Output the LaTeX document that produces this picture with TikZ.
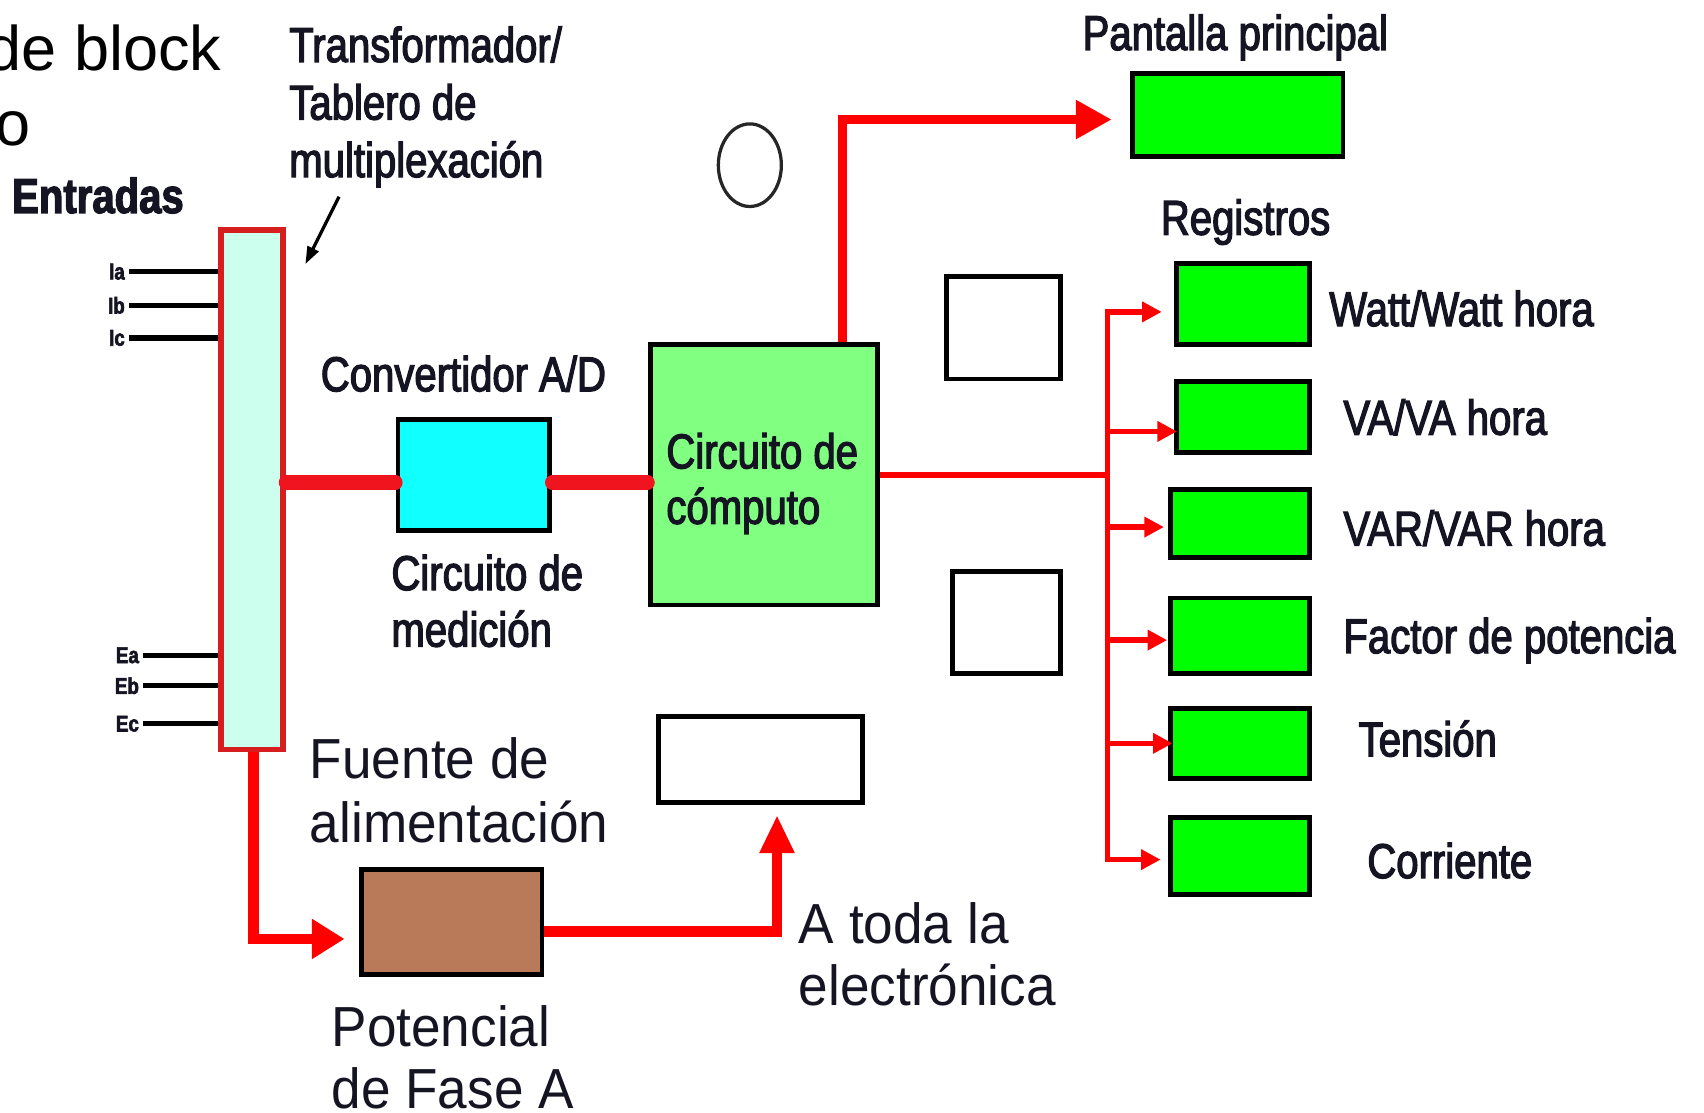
\documentclass[tikz,border=0pt]{standalone}
\usepackage{fontspec}
\setmainfont{Liberation Sans}
\newfontfamily\narrowf[FakeStretch=0.82,FakeBold=2.5]{Liberation Sans}
\newfontfamily\semif[FakeStretch=0.94]{Liberation Sans}
\usetikzlibrary{arrows.meta,shapes.geometric}
\definecolor{muxfill}{RGB}{204,255,238}
\definecolor{adfill}{RGB}{16,255,255}
\definecolor{compfill}{RGB}{128,255,128}
\definecolor{regfill}{RGB}{0,255,0}
\definecolor{brownfill}{RGB}{184,122,88}
\definecolor{muxred}{RGB}{215,30,30}
\definecolor{thickred}{RGB}{240,20,30}
\definecolor{txt}{RGB}{20,20,35}
\tikzset{
  blk/.style={draw=black, line width=4.5pt, inner sep=0pt, rectangle},
  lbl/.style={font=\narrowf\fontsize{45}{53}\selectfont, text=txt, inner sep=0pt, anchor=base west},
  lblw/.style={font=\semif\fontsize{52}{60}\selectfont, text=txt, inner sep=0pt, anchor=base west},
  big/.style={font=\fontsize{58}{70}\selectfont, text=black, inner sep=0pt, anchor=base east},
  small/.style={font=\narrowf\bfseries\fontsize{21}{23}\selectfont, text=txt, inner sep=0pt, anchor=east},
  wire/.style={draw=black, line width=5pt},
  busline/.style={draw=red, line width=5pt, line join=miter},
  redmid/.style={draw=red, line width=8pt, line join=miter},
  redwide/.style={draw=red, line width=10pt, line join=miter},
  redthick/.style={draw=thickred, line width=13pt, line cap=round},
  smallhead/.style={{Triangle[length=18pt,width=18pt]}-{Triangle[length=18pt,width=18pt]}},
}
\begin{document}
\begin{tikzpicture}[x=1pt,y=-1pt]
\useasboundingbox (0,0) rectangle (1568,1024);

% title fragments
\node[big] (t1) at (204,65) {de block};
\node[big] (t2) at (28,134) {o};

% multiplexer
\node[draw=muxred, fill=muxfill, line width=5pt, inner sep=0pt, minimum width=57pt, minimum height=478pt] (mux) at (232,450.5) {};
\node[lbl, font=\narrowf\bfseries\fontsize{45}{53}\selectfont] (entr) at (11,196) {Entradas};
\node[lbl] (tr1) at (266,57) {Transformador/};
\node[lbl] (tr2) at (266,110) {Tablero de};
\node[lbl] (tr3) at (266,163) {multiplexación};
\coordinate (ar1) at (312,181);
\coordinate (ar2) at (281,243);
\draw[black, line width=3pt, -{Triangle[length=16pt,width=11pt]}] (ar1) -- (ar2);

% inputs
\node[small] (lIa) at (115,250) {Ia};
\node[small] (lIb) at (115,281) {Ib};
\node[small] (lIc) at (115,311) {Ic};
\node[small] (lEa) at (128,603) {Ea};
\node[small] (lEb) at (128,631) {Eb};
\node[small] (lEc) at (128,666) {Ec};
\foreach \n in {lIa,lIb,lIc,lEa,lEb,lEc}
  \draw[wire] ([xshift=4pt]\n.east) -- (\n.east -| mux.west);

% A/D converter and computing circuit
\node[blk, fill=adfill, minimum width=139.5pt, minimum height=101.5pt] (ad) at (436,437) {};
\node[lbl] (conv) at (295,360) {Convertidor A/D};
\node[lbl] (med1) at (360,543) {Circuito de};
\node[lbl] (med2) at (360,595) {medición};
\node[blk, fill=compfill, minimum width=209.5pt, minimum height=239.5pt] (comp) at (703,437) {};
\node[lbl] (cmp1) at (613,431) {Circuito de};
\node[lbl] (cmp2) at (613,482) {cómputo};
\path ([yshift=-7pt]ad.west) coordinate (adin) ([yshift=-7pt]ad.east) coordinate (adout);
\draw[redthick] (adin -| mux.east) -- (adin);
\draw[redthick] (adout) -- (adout -| comp.west);

% empty shapes
\node[draw=black!85, line width=3pt, ellipse, inner sep=0pt, minimum width=58pt, minimum height=76pt] (circ) at (690,152) {};
\node[blk, fill=white, minimum width=104.5pt, minimum height=94.5pt] (e1) at (923.5,301.5) {};
\node[blk, fill=white, minimum width=99.5pt, minimum height=93.5pt] (e2) at (926,573) {};
\node[blk, fill=white, minimum width=187.5pt, minimum height=79.5pt] (e3) at (700,699) {};

% main display
\node[lbl] (pantl) at (996,46) {Pantalla principal};
\node[blk, fill=regfill, minimum width=193.5pt, minimum height=76.5pt] (pant) at (1139,105.5) {};
\coordinate (pantip) at (1023,110);
\draw[redmid, -{Triangle[length=33pt,width=34pt]}] ([xshift=72pt]comp.north) |- (pantip);

% registers
\node[lbl] (regl) at (1068,216) {Registros};
\node[blk, fill=regfill, minimum width=122.5pt, minimum height=74.5pt] (r1) at (1143.5,279.5) {};
\node[blk, fill=regfill, minimum width=122.5pt, minimum height=65.5pt] (r2) at (1143.5,384) {};
\node[blk, fill=regfill, minimum width=127.5pt, minimum height=62.5pt] (r3) at (1141,481.5) {};
\node[blk, fill=regfill, minimum width=127.5pt, minimum height=69.5pt] (r4) at (1141,585) {};
\node[blk, fill=regfill, minimum width=127.5pt, minimum height=64.5pt] (r5) at (1141,684.5) {};
\node[blk, fill=regfill, minimum width=127.5pt, minimum height=70.5pt] (r6) at (1141,787.5) {};
\node[lbl] (rl1) at (1223,300) {Watt/Watt hora};
\node[lbl] (rl2) at (1236,400) {VA/VA hora};
\node[lbl] (rl3) at (1236,502) {VAR/VAR hora};
\node[lbl] (rl4) at (1236,601) {Factor de potencia};
\node[lbl] (rl5) at (1250,696) {Tensión};
\node[lbl] (rl6) at (1258,808) {Corriente};

\coordinate (tip1) at (1069,287);
\coordinate (tip2) at (1083,397);
\coordinate (tip3) at (1071,485);
\coordinate (tip4) at (1074,589);
\coordinate (tip5) at (1079,684);
\coordinate (tip6) at (1068,791);
\coordinate (bustop) at (1019,287);
\coordinate (busbot) at (1019,791);
\draw[busline] (comp.east) -- (comp.east -| bustop);
\draw[busline, smallhead] (tip1) -- (bustop) -- (busbot) -- (tip6);
\foreach \t in {tip2,tip3,tip4,tip5}
  \draw[busline, -{Triangle[length=18pt,width=18pt]}] (\t -| bustop) -- (\t);

% power supply
\node[lblw] (fu1) at (285,716) {Fuente de};
\node[lblw] (fu2) at (285,775) {alimentación};
\node[blk, fill=brownfill, minimum width=166.5pt, minimum height=96.5pt] (fue) at (415.5,848.5) {};
\node[lblw] (po1) at (305,963) {Potencial};
\node[lblw] (po2) at (305,1020) {de Fase A};
\node[lblw] (at1) at (735,868) {A toda la};
\node[lblw] (at2) at (735,925) {electrónica};
\coordinate (fuetip) at (317,864);
\coordinate (uptip) at (715,750);
\draw[redwide, -{Triangle[length=30pt,width=35pt]}] ([xshift=1pt]mux.south) |- (fuetip);
\draw[redwide, -{Triangle[length=35pt,width=30pt]}] ([yshift=-8.5pt]fue.east) -| (uptip);
\end{tikzpicture}
\end{document}
